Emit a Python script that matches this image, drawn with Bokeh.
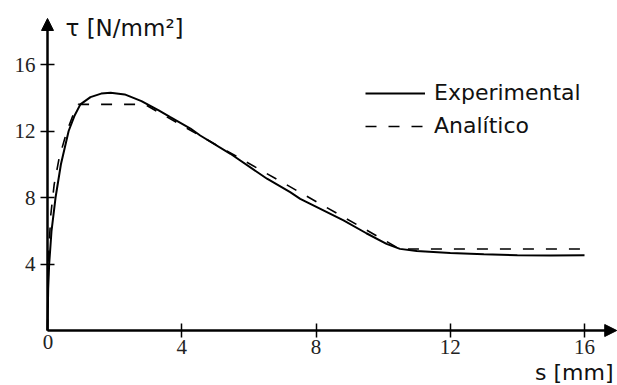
from bokeh.plotting import figure
from bokeh.models import Range1d, FixedTicker, Label, Legend, LegendItem, Arrow, NormalHead
from bokeh.embed import file_html
from bokeh.resources import INLINE

# ---- data ----
exp_s = [0, 0.02, 0.05, 0.12, 0.24, 0.4, 0.63, 0.8, 0.98, 1.28, 1.6, 1.88, 2.3, 2.8, 3.3,
         3.66, 4.26, 4.55, 5.45, 6.54, 7.23, 7.53, 8.82, 9.5, 10.1, 10.5, 11.0, 12.0,
         13.0, 14.0, 15.0, 16.0]
exp_tau = [0, 2.5, 4.0, 6.0, 8.0, 10.0, 12.0, 12.9, 13.6, 14.04, 14.25, 14.3, 14.2, 13.8, 13.25,
           12.83, 12.15, 11.73, 10.63, 9.13, 8.32, 7.92, 6.62, 5.85, 5.21, 4.91, 4.78, 4.66,
           4.58, 4.53, 4.51, 4.52]

ana_s = [0, 0.03, 0.1, 0.2, 0.35, 0.58, 0.75, 0.92, 2.9, 10.5, 16.0]
ana_tau = [0, 4.5, 7.0, 8.8, 10.4, 12.0, 12.9, 13.6, 13.6, 4.9, 4.9]

x_ticks = [4, 8, 12, 16]
y_ticks = [4, 8, 12, 16]
series_names = ["Experimental", "Analítico"]
x_label = "s [mm]"
y_label = "τ [N/mm²]"

# visible extent of the drawing (data units)
X_MIN, X_MAX = -1.4004, 16.983
Y_MIN, Y_MAX = -3.308, 19.85
X_TIP = 16.96   # arrow tip of s axis
Y_TIP = 18.77   # arrow tip of tau axis

p = figure(width=617, height=385, output_backend="svg", toolbar_location=None,
           title=None, x_range=Range1d(X_MIN, X_MAX), y_range=Range1d(Y_MIN, Y_MAX),
           min_border=0)
p.outline_line_color = None
p.xgrid.visible = False
p.ygrid.visible = False
p.background_fill_color = "white"
p.border_fill_color = "white"

for ax, ticks, tip in ((p.xaxis[0], x_ticks, X_TIP - 0.15), (p.yaxis[0], y_ticks, Y_TIP - 0.3)):
    ax.fixed_location = 0
    ax.bounds = (0, tip)
    ax.ticker = FixedTicker(ticks=ticks)
    ax.axis_line_width = 2.5
    ax.axis_line_color = "black"
    ax.major_tick_in = 7
    ax.major_tick_out = 7
    ax.major_tick_line_width = 1.5
    ax.major_tick_line_color = "black"
    ax.minor_tick_line_color = None
    ax.major_label_text_font = "Liberation Serif"
    ax.major_label_text_font_size = "21px"
    ax.major_label_text_color = "#222222"
p.xaxis[0].major_label_standoff = 2
p.yaxis[0].major_label_standoff = 5

r_exp = p.line(exp_s, exp_tau, line_color="black", line_width=2)
r_ana = p.line(ana_s, ana_tau, line_color="black", line_width=1.6, line_dash="11 12")

# arrow heads at axis ends
p.add_layout(Arrow(end=NormalHead(size=12, fill_color="black", line_color="black", line_width=1),
                   x_start=X_TIP - 0.5, y_start=0, x_end=X_TIP, y_end=0, line_alpha=0))
p.add_layout(Arrow(end=NormalHead(size=12, fill_color="black", line_color="black", line_width=1),
                   x_start=0, y_start=Y_TIP - 1, x_end=0, y_end=Y_TIP, line_alpha=0))

p.add_layout(Label(x=0.015, y=-0.30, text="0", text_align="center", text_baseline="top",
                   text_font="Liberation Serif", text_font_size="21px", text_color="#222222"))
p.add_layout(Label(x=0.536, y=18.17, text=y_label, text_align="left", text_baseline="middle",
                   text_font="DejaVu Sans", text_font_size="23px", text_color="#111111"))
p.add_layout(Label(x=16.864, y=-2.50, text=x_label, text_align="right", text_baseline="middle",
                   text_font="DejaVu Sans", text_font_size="22px", text_color="#111111"))

legend = Legend(items=[LegendItem(label=series_names[0], renderers=[r_exp]),
                       LegendItem(label=series_names[1], renderers=[r_ana])],
                location=(365, 247), glyph_width=60, glyph_height=20, label_height=20,
                spacing=8, label_standoff=9, padding=0, margin=0,
                border_line_color=None, background_fill_alpha=0,
                label_text_font="DejaVu Sans", label_text_font_size="22px",
                label_text_color="#111111")
p.add_layout(legend)

open("out.html", "w").write(file_html(p, INLINE))
